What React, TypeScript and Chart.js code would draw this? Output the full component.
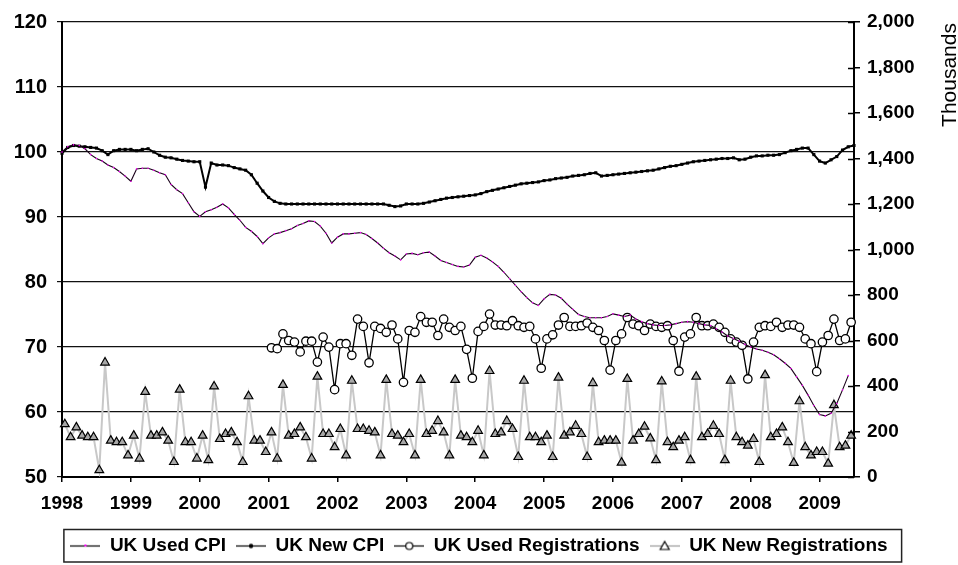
import React, { useEffect, useRef } from 'react';
import { Chart, registerables } from 'chart.js';

Chart.register(...registerables);

// ---------------- data ----------------
const startYear = 1998;
const monthCount = 139; // Jan 1998 .. Jul 2009 (primary category axis)
const regMonthCount = 138; // registrations plotted on secondary (between-tick) axis

// UK New car CPI (index, left axis)
const newCpi = [
  99.8, 100.7, 101.0, 100.9, 100.8, 100.7, 100.6, 100.2, 99.6, 100.2, 100.4, 100.4,
  100.4, 100.2, 100.4, 100.5, 100.0, 99.5, 99.2, 99.1, 98.9, 98.7, 98.6, 98.5,
  98.5, 94.6, 98.3, 98.0, 98.0, 97.9, 97.6, 97.4, 97.2, 96.5, 95.2, 94.0,
  93.0, 92.4, 92.1, 92.0, 92.0, 92.0, 92.0, 92.0, 92.0, 92.0, 92.0, 92.0,
  92.0, 92.0, 92.0, 92.0, 92.0, 92.0, 92.0, 92.0, 92.0, 91.8, 91.6, 91.7,
  92.0, 92.0, 92.0, 92.1, 92.3, 92.5, 92.7, 92.9, 93.0, 93.1, 93.2, 93.3,
  93.4, 93.6, 93.9, 94.1, 94.3, 94.5, 94.7, 94.9, 95.1, 95.2, 95.3, 95.4,
  95.6, 95.7, 95.9, 96.0, 96.1, 96.3, 96.4, 96.5, 96.7, 96.8, 96.3, 96.4,
  96.5, 96.6, 96.7, 96.8, 96.9, 97.0, 97.1, 97.2, 97.4, 97.6, 97.8, 97.9,
  98.1, 98.3, 98.5, 98.6, 98.7, 98.8, 98.9, 99.0, 99.0, 99.1, 98.8, 98.9,
  99.2, 99.4, 99.4, 99.5, 99.5, 99.6, 99.9, 100.2, 100.4, 100.6, 100.6, 99.6,
  98.6, 98.3, 98.8, 99.3, 100.3, 100.8, 101.0,
];

// UK Used car CPI (index, left axis)
const usedCpi = [
  100.0, 100.8, 101.1, 101.0, 100.5, 99.6, 99.0, 98.6, 98.0, 97.6, 97.0, 96.3,
  95.5, 97.4, 97.5, 97.5, 97.2, 96.8, 96.5, 95.0, 94.2, 93.6, 92.2, 90.8,
  90.1, 90.8, 91.1, 91.5, 92.0, 91.4, 90.4, 89.5, 88.4, 87.8, 87.0, 85.9,
  86.8, 87.4, 87.6, 87.9, 88.2, 88.7, 89.0, 89.4, 89.3, 88.6, 87.5, 86.0,
  86.9, 87.4, 87.4, 87.5, 87.6, 87.3, 86.7, 86.0, 85.2, 84.5, 84.0, 83.4,
  84.3, 84.4, 84.2, 84.5, 84.6, 84.0, 83.3, 83.0, 82.7, 82.4, 82.3, 82.6,
  83.8, 84.1, 83.7, 83.1, 82.4, 81.5, 80.5, 79.5, 78.5, 77.6, 76.8, 76.4,
  77.4, 78.1, 78.0, 77.5, 76.6, 75.8, 75.0, 74.7, 74.5, 74.5, 74.5, 74.7,
  75.1, 74.9, 74.7, 74.9, 74.3, 73.9, 73.6, 73.4, 73.3, 73.3, 73.4, 73.6,
  73.8, 73.9, 73.8, 73.6, 73.4, 73.3, 72.8, 72.3, 71.7, 71.3, 70.9, 70.4,
  70.0, 69.7, 69.5, 69.2, 68.8, 68.2, 67.5, 66.7, 65.4, 64.1, 62.6, 61.0,
  59.6, 59.4, 59.8, 61.3, 63.4, 65.6,
];

// UK Used car registrations (thousands, right axis) - series starts Jan 2001
const usedRegistrations = [
  ...Array(36).fill(null),
  568, 564, 629, 600, 593, 550, 597, 597, 505, 615, 571, 384,
  586, 586, 535, 694, 662, 502, 662, 653, 636, 668, 607, 416,
  644, 636, 705, 680, 680, 622, 694, 658, 644, 662, 561, 434,
  640, 662, 716, 668, 668, 665, 687, 665, 658, 662, 607, 478,
  607, 625, 668, 701, 662, 662, 665, 677, 658, 644, 600, 470,
  600, 629, 701, 672, 665, 644, 672, 662, 658, 665, 600, 465,
  615, 629, 701, 665, 665, 672, 658, 636, 607, 593, 579, 431,
  593, 658, 665, 662, 680, 658, 668, 668, 658, 607, 586, 463,
  593, 622, 694, 600, 607, 680,
];

// UK New car registrations (thousands, right axis)
const newRegistrations = [
  232, 175, 218, 182, 175, 175, 30, 503, 160, 153, 153, 95,
  182, 81, 374, 182, 182, 196, 160, 66, 384, 153, 153, 81,
  182, 74, 398, 167, 189, 196, 153, 66, 355, 160, 160, 110,
  196, 81, 405, 182, 189, 218, 175, 81, 441, 189, 189, 131,
  211, 95, 423, 211, 211, 203, 196, 95, 427, 189, 182, 153,
  189, 95, 427, 189, 203, 246, 196, 95, 427, 182, 175, 153,
  203, 95, 466, 189, 196, 246, 211, 88, 423, 175, 175, 153,
  182, 88, 437, 182, 196, 225, 189, 88, 413, 153, 160, 160,
  160, 63, 431, 160, 189, 221, 170, 74, 420, 153, 131, 160,
  175, 74, 441, 175, 189, 225, 189, 74, 423, 175, 153, 138,
  167, 66, 448, 175, 189, 218, 153, 62, 333, 131, 95, 110,
  110, 59, 316, 131, 138, 182,
];

const seriesNames = ['UK Used CPI', 'UK New CPI', 'UK Used Registrations', 'UK New Registrations'];
const leftTicks = { min: 50, max: 120, step: 10 };
const rightTicks = { min: 0, max: 2000, step: 200 };
const rightTitle = 'Thousands';

const monthLabels = Array.from({ length: monthCount }, (_, i) =>
  `${startYear + Math.floor(i / 12)}-${String((i % 12) + 1).padStart(2, '0')}`
);
const regLabels = monthLabels.slice(0, regMonthCount);

const FONT = "'Liberation Sans', Arial, sans-serif";

function makeIcon(kind: number): HTMLCanvasElement {
  const c = document.createElement('canvas');
  c.width = 30;
  c.height = 16;
  const g = c.getContext('2d')!;
  const cy = 8.5;
  g.lineWidth = 1.2;
  g.strokeStyle = kind === 3 ? '#9a9a9a' : '#000';
  g.beginPath();
  g.moveTo(0, cy);
  g.lineTo(30, cy);
  g.stroke();
  if (kind === 0) {
    g.fillStyle = '#ff00ff';
    g.fillRect(14, cy - 1.5, 2, 2);
  } else if (kind === 1) {
    g.fillStyle = '#000';
    g.beginPath();
    g.arc(15, cy, 2.2, 0, Math.PI * 2);
    g.fill();
  } else if (kind === 2) {
    g.fillStyle = '#fff';
    g.strokeStyle = '#000';
    g.lineWidth = 1.2;
    g.beginPath();
    g.arc(15, cy, 3.5, 0, Math.PI * 2);
    g.fill();
    g.stroke();
  } else {
    g.fillStyle = '#fff';
    g.strokeStyle = '#000';
    g.lineWidth = 1.2;
    g.beginPath();
    g.moveTo(15, cy - 4.5);
    g.lineTo(19.5, cy + 3.5);
    g.lineTo(10.5, cy + 3.5);
    g.closePath();
    g.fill();
    g.stroke();
  }
  return c;
}

const decorPlugin = {
  id: 'decor',
  afterDraw(chart: any) {
    const { ctx, chartArea, scales } = chart;
    ctx.save();
    // inner half of right-axis tick marks (cross style)
    const y2 = scales.y2;
    ctx.strokeStyle = '#000';
    ctx.lineWidth = 1.5;
    y2.ticks.forEach((t: any) => {
      const y = Math.round(y2.getPixelForValue(t.value)) + 0.5;
      ctx.beginPath();
      ctx.moveTo(chartArea.right - 6, y);
      ctx.lineTo(chartArea.right, y);
      ctx.stroke();
    });
    // legend frame
    const hb = chart.legend?.legendHitBoxes;
    if (hb && hb.length) {
      const first = hb[0];
      const last = hb[hb.length - 1];
      const left = first.left - 6.5;
      const right = last.left + last.width + 14;
      const top = first.top - 6.5;
      const bottom = first.top + first.height + 7;
      ctx.lineWidth = 1.5;
      ctx.strokeStyle = '#222';
      ctx.strokeRect(left, top, right - left, bottom - top);
    }
    // right axis unit title (reads bottom to top)
    ctx.translate(chartArea.right + 96, chartArea.top + 53);
    ctx.rotate(-Math.PI / 2);
    ctx.font = `21px ${FONT}`;
    ctx.fillStyle = '#000';
    ctx.textAlign = 'center';
    ctx.textBaseline = 'middle';
    ctx.fillText(rightTitle, 0, 0);
    ctx.restore();
  },
};

export default function App() {
  const ref = useRef<HTMLCanvasElement>(null);

  useEffect(() => {
    if (!ref.current) return;
    Chart.defaults.font.family = FONT;
    Chart.defaults.font.size = 19;
    Chart.defaults.font.weight = 'bold' as any;
    Chart.defaults.color = '#000';

    const icons = [0, 1, 2, 3].map(makeIcon);
    const tickFont = { family: FONT, size: 19, weight: 'bold' as any };

    const chart = new Chart(ref.current, {
      type: 'line',
      data: {
        labels: monthLabels,
        datasets: [
          {
            label: seriesNames[0],
            data: usedCpi,
            xAxisID: 'x',
            yAxisID: 'y',
            borderColor: '#1a001a',
            borderWidth: 1.1,
            pointStyle: 'circle',
            pointRadius: 0.8,
            pointBackgroundColor: '#ff00ff',
            pointBorderWidth: 0,
            fill: false,
          },
          {
            label: seriesNames[1],
            data: newCpi,
            xAxisID: 'x',
            yAxisID: 'y',
            borderColor: '#000',
            borderWidth: 2,
            pointStyle: 'rect',
            pointRadius: 2.2,
            pointBackgroundColor: '#000',
            pointBorderWidth: 0,
            fill: false,
          },
          {
            label: seriesNames[2],
            data: usedRegistrations,
            xAxisID: 'x2',
            yAxisID: 'y2',
            borderColor: '#000',
            borderWidth: 1.3,
            pointStyle: 'circle',
            pointRadius: 4.2,
            pointBackgroundColor: '#fff',
            pointBorderColor: '#000',
            pointBorderWidth: 1.3,
            fill: false,
          },
          {
            label: seriesNames[3],
            data: newRegistrations,
            xAxisID: 'x2',
            yAxisID: 'y2',
            borderColor: '#c8c8c8',
            borderWidth: 2,
            pointStyle: 'triangle',
            pointRadius: 5,
            pointBackgroundColor: '#a8a8a8',
            pointBorderColor: '#000',
            pointBorderWidth: 1.2,
            fill: false,
          },
        ],
      },
      options: {
        responsive: false,
        animation: false,
        devicePixelRatio: 1,
        layout: { padding: { top: 15, left: 0, right: 0, bottom: 0 } },
        elements: { line: { tension: 0 } },
        plugins: {
          tooltip: { enabled: false },
          legend: {
            display: true,
            position: 'bottom',
            labels: {
              usePointStyle: true,
              pointStyleWidth: 30,
              padding: 10,
              color: '#000',
              font: tickFont,
              generateLabels: (ch: any) => {
                const items = (Chart.defaults.plugins.legend.labels as any).generateLabels(ch);
                return items.map((it: any, i: number) => ({
                  ...it,
                  pointStyle: icons[i],
                  lineWidth: 0,
                  strokeStyle: 'rgba(0,0,0,0)',
                  fillStyle: 'rgba(0,0,0,0)',
                }));
              },
            },
          },
        },
        scales: {
          x: {
            type: 'category',
            position: 'bottom',
            offset: false,
            afterFit: (s: any) => {
              s.height = 49;
            },
            grid: {
              drawOnChartArea: false,
              drawTicks: true,
              tickLength: 5,
              lineWidth: 1.5,
              color: (c: any) =>
                monthLabels[c.index] && monthLabels[c.index].endsWith('-01') ? '#000' : 'rgba(0,0,0,0)',
            },
            border: { display: true, color: '#000', width: 2 },
            ticks: {
              autoSkip: false,
              maxRotation: 0,
              minRotation: 0,
              padding: 10,
              color: '#000',
              font: tickFont,
              callback: (_v: any, i: number) =>
                monthLabels[i].endsWith('-01') ? monthLabels[i].slice(0, 4) : '',
            },
          },
          x2: {
            type: 'category',
            labels: regLabels,
            offset: true,
            display: false,
            position: 'bottom',
          },
          y: {
            type: 'linear',
            position: 'left',
            min: leftTicks.min,
            max: leftTicks.max,
            afterFit: (s: any) => {
              s.width = 62;
            },
            ticks: {
              stepSize: leftTicks.step,
              padding: 10,
              color: '#000',
              font: { family: FONT, size: 20, weight: 'bold' as any },
            },
            grid: {
              color: '#111',
              lineWidth: 1.2,
              drawTicks: true,
              tickLength: 5,
            },
            border: { display: true, color: '#000', width: 2 },
          },
          y2: {
            type: 'linear',
            position: 'right',
            min: rightTicks.min,
            max: rightTicks.max,
            afterFit: (s: any) => {
              s.width = 104;
            },
            ticks: {
              stepSize: rightTicks.step,
              padding: 7,
              color: '#000',
              font: tickFont,
            },
            grid: {
              drawOnChartArea: false,
              drawTicks: true,
              tickLength: 6,
              color: '#000',
              lineWidth: 1.5,
            },
            border: { display: true, color: '#000', width: 2 },
          },
        },
      } as any,
      plugins: [decorPlugin],
    });

    return () => chart.destroy();
  }, []);

  return (
    <div style={{ position: 'absolute', left: 0, top: 0, width: 958, height: 565, background: '#fff' }}>
      <canvas ref={ref} width={958} height={565} style={{ display: 'block' }} />
    </div>
  );
}
